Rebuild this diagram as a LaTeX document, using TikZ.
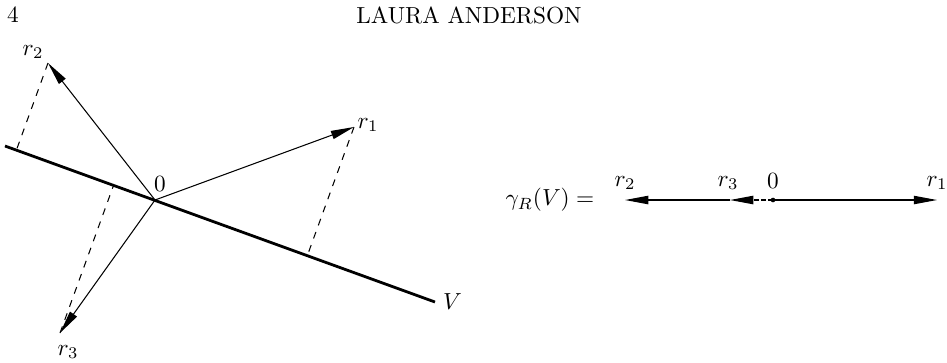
\documentclass[tikz,border=0pt]{standalone}
\usepackage{tikz}
\usetikzlibrary{arrows.meta,calc}

\tikzset{
  vec/.style={-{Triangle[length=10pt,width=3.6pt]}, line width=0.45pt},
  proj/.style={dashed, line width=0.45pt},
}

\begin{document}
\begin{tikzpicture}[x=0.43pt, y=-0.43pt]
  \useasboundingbox (0,0) rectangle (947,362);
  \node (pagenum) at (13,15) {4};
  \node (runhead) at (469,15) {LAURA ANDERSON};

  % the line V and the three vectors
  \coordinate (O) at (155,200);
  \coordinate (Vs) at (5,146);
  \coordinate (Ve) at (435,302);
  \draw[line width=1.2pt] (Vs) -- (Ve);
  \node[right] (vlab) at (Ve) {$V$};

  \coordinate (t1) at (354,127);
  \coordinate (t2) at (48,63);
  \coordinate (t3) at (60,333);
  \foreach \i in {1,2,3} {
    \draw[vec] (O) -- (t\i);
    \draw[proj] (t\i) -- ($(Vs)!(t\i)!(Ve)$);
  }
  \node (r1) at (368,125) {$r_1$};
  \node (r2) at (33,52) {$r_2$};
  \node (r3) at (68,352) {$r_3$};
  \node (zero) at (160,184) {$0$};

  % the image on the right
  \node (gamma) at (550,200) {$\gamma_R(V) =$};
  \coordinate (Z) at (773,200);
  \coordinate (p1) at (937,200);
  \coordinate (p2) at (625,200);
  \coordinate (p3) at (730,200);
  \draw[vec] (Z) -- (p1);
  \draw[vec, dash pattern=on 2pt off 1pt] (Z) -- (p3);
  \draw[vec] (p3) -- (p2);
  \fill (Z) circle (1pt);
  \node (rr1) at (937,183) {$r_1$};
  \node (rr2) at (625,183) {$r_2$};
  \node (rr3) at (728,183) {$r_3$};
  \node (rr0) at (773,181) {$0$};
\end{tikzpicture}
\end{document}
